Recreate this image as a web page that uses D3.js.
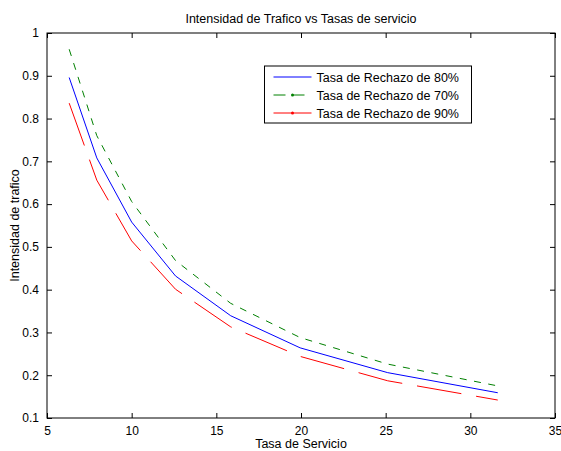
<!DOCTYPE html>
<html>
<head>
  <script src="https://cdnjs.cloudflare.com/ajax/libs/d3/7.8.5/d3.min.js" type="text/javascript"></script>
  <style>
    body { margin: 0; background: #fff; }
    svg { display: block; font-family: "Liberation Sans", Arial, sans-serif; }
  </style>
</head>
<body>
  <svg id="chart" style="width:561px;height:451px;"></svg>
  <script>

// tasa de servicio (x) - puntos de la curva
var tasaServicio = [6.31, 7.94, 10.0, 12.59, 15.85, 19.95, 25.12, 31.62];
// intensidad de trafico para cada tasa de rechazo
var rechazo80 = [0.896, 0.708, 0.558, 0.432, 0.339, 0.264, 0.206, 0.159];
var rechazo70 = [0.962, 0.760, 0.606, 0.468, 0.368, 0.288, 0.226, 0.175];
var rechazo90 = [0.836, 0.656, 0.514, 0.401, 0.313, 0.244, 0.187, 0.142];

var xTicks = [5, 10, 15, 20, 25, 30, 35];
var yTicks = [0.1, 0.2, 0.3, 0.4, 0.5, 0.6, 0.7, 0.8, 0.9, 1];

var seriesNames = ["Tasa de Rechazo de 80%", "Tasa de Rechazo de 70%", "Tasa de Rechazo de 90%"];

var series = [
  { name: seriesNames[0], values: rechazo80, color: "#0000ff", dash: null, legendDash: null, dot: false },
  { name: seriesNames[1], values: rechazo70, color: "#008000", dash: "7,7.5", legendDash: "12,7", dot: true },
  { name: seriesNames[2], values: rechazo90, color: "#ff0000", dash: "45,15", legendDash: null, dot: true }
];

var width = 561, height = 451;
var margin = { left: 47, right: 6, top: 33, bottom: 33 };
var labelFont = 12.5, tickFont = 12;

var svg = d3.select("#chart")
    .attr("width", width)
    .attr("height", height);

var x = d3.scaleLinear().domain([5, 35]).range([margin.left, width - margin.right]);
var y = d3.scaleLinear().domain([0.1, 1]).range([height - margin.bottom, margin.top]);

var x0 = x.range()[0], x1 = x.range()[1], y0 = y.range()[0], y1 = y.range()[1];

// lineas
var line = d3.line()
    .x(function(d) { return x(d[0]); })
    .y(function(d) { return y(d[1]); });

series.forEach(function(s) {
  var pts = tasaServicio.map(function(t, i) { return [t, s.values[i]]; });
  svg.append("path")
      .datum(pts)
      .attr("d", line)
      .attr("fill", "none")
      .attr("stroke", s.color)
      .attr("stroke-width", 1)
      .attr("stroke-dasharray", s.dash);
});

// ejes estilo matlab (ticks hacia adentro)
var tickLen = 5;

function styleText(g) {
  g.select(".domain").remove();
  g.selectAll("text")
    .attr("font-size", tickFont)
    .attr("font-family", "Liberation Sans, Arial, sans-serif")
    .attr("fill", "#000");
}

svg.append("g")
    .attr("transform", "translate(0," + y0 + ")")
    .call(d3.axisBottom(x).tickValues(xTicks).tickSizeInner(-tickLen).tickSizeOuter(0).tickPadding(8))
    .call(styleText);

svg.append("g")
    .attr("transform", "translate(0," + y1 + ")")
    .call(d3.axisTop(x).tickValues(xTicks).tickSizeInner(-tickLen).tickSizeOuter(0).tickFormat(""))
    .call(function(g) { g.select(".domain").remove(); });

svg.append("g")
    .attr("transform", "translate(" + x0 + ",0)")
    .call(d3.axisLeft(y).tickValues(yTicks).tickSizeInner(-tickLen).tickSizeOuter(0).tickPadding(8)
      .tickFormat(function(d) { return d === 1 ? "1" : d3.format(".1f")(d); }))
    .call(styleText);

svg.append("g")
    .attr("transform", "translate(" + x1 + ",0)")
    .call(d3.axisRight(y).tickValues(yTicks).tickSizeInner(-tickLen).tickSizeOuter(0).tickFormat(""))
    .call(function(g) { g.select(".domain").remove(); });

// marco
svg.append("rect")
    .attr("x", x0).attr("y", y1)
    .attr("width", x1 - x0).attr("height", y0 - y1)
    .attr("fill", "none")
    .attr("stroke", "#000")
    .attr("stroke-width", 1);

// titulos
svg.append("text")
    .attr("x", (x0 + x1) / 2).attr("y", 23)
    .attr("text-anchor", "middle")
    .attr("font-size", labelFont)
    .text("Intensidad de Trafico vs Tasas de servicio");

svg.append("text")
    .attr("x", (x0 + x1) / 2).attr("y", 448)
    .attr("text-anchor", "middle")
    .attr("font-size", labelFont)
    .text("Tasa de Servicio");

svg.append("text")
    .attr("transform", "translate(19," + (y0 + y1) / 2 + ") rotate(-90)")
    .attr("text-anchor", "middle")
    .attr("font-size", labelFont)
    .text("Intensidad de trafico");

// leyenda
var legend = svg.append("g").attr("transform", "translate(264.5,66)");

legend.append("rect")
    .attr("width", 207).attr("height", 57)
    .attr("fill", "#fff")
    .attr("stroke", "#000")
    .attr("stroke-width", 1);

var item = legend.selectAll(".item")
    .data(series)
    .enter().append("g")
    .attr("class", "item")
    .attr("transform", function(d, i) { return "translate(0," + (11 + i * 18) + ")"; });

item.append("line")
    .attr("x1", 9).attr("x2", 47)
    .attr("stroke", function(d) { return d.color; })
    .attr("stroke-width", 1)
    .attr("stroke-dasharray", function(d) { return d.legendDash; });

item.filter(function(d) { return d.dot; })
    .append("circle")
    .attr("cx", 28).attr("r", 1.5)
    .attr("fill", function(d) { return d.color; });

item.append("text")
    .attr("x", 52).attr("y", 4.5)
    .attr("font-size", labelFont)
    .text(function(d) { return d.name; });

  </script>
</body>
</html>
